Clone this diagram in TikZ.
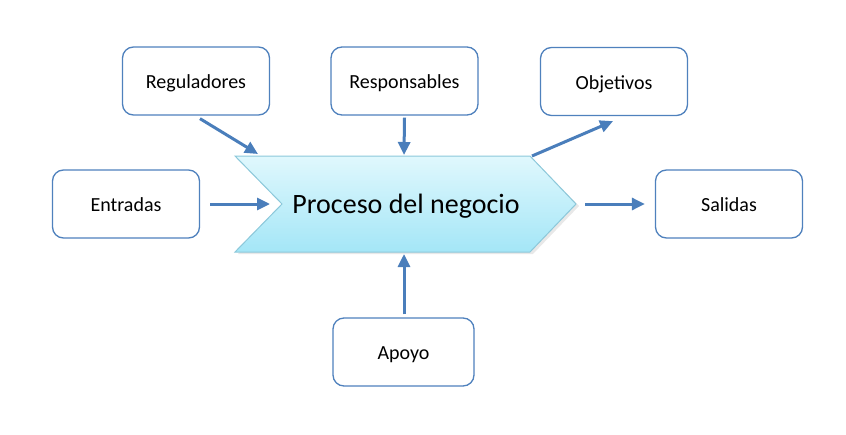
\documentclass[tikz,border=0pt]{standalone}
\usepackage{fontspec}
\setmainfont{Carlito}
\usetikzlibrary{arrows.meta,calc}
\definecolor{boxline}{RGB}{79,129,189}
\definecolor{arr}{RGB}{74,126,187}
\definecolor{chtop}{RGB}{224,248,253}
\definecolor{chbot}{RGB}{164,230,247}
\definecolor{chline}{RGB}{140,200,218}
\tikzset{
  stepbox/.style={draw=boxline, line width=1.3pt, rounded corners=11pt, fill=white,
    minimum width=147pt, minimum height=68pt, inner sep=0pt,
    text height=17pt, text depth=2pt, font=\fontsize{20}{24}\selectfont},
  flow/.style={draw=arr, line width=3pt, -{Triangle[length=13pt,width=12pt]}}
}
\begin{document}
\begin{tikzpicture}[x=1pt,y=-1pt]
\useasboundingbox (0,0) rectangle (846,434);
% chevron shadow
\fill[black!9] (238,159) -- (533,159) -- (579,206) -- (533,254) -- (238,254) -- (285,206) -- cycle;
% chevron
\shade[top color=chtop, bottom color=chbot, draw=chline, line width=1pt]
  (235,156) -- (530,156) -- (576,204) -- (530,252) -- (235,252) -- (282,204) -- cycle;
\node[font=\fontsize{28}{32}\selectfont] (proc) at (406,206) {Proceso del negocio};
\coordinate (pTopL) at (258,154);
\coordinate (pTopM) at (404,155);
\coordinate (pTopR) at (532,156);
\coordinate (pLeft) at (270,204);
\coordinate (pRight) at (585,204);
\coordinate (pBot) at (404,254);
% boxes
\node[stepbox] (reg) at (196,81) {Reguladores};
\node[stepbox] (res) at (404.5,81) {Responsables};
\node[stepbox] (obj) at (614,81.5) {Objetivos};
\node[stepbox] (ent) at (126,204) {Entradas};
\node[stepbox] (sal) at (729,204) {Salidas};
\node[stepbox, minimum width=141pt] (apo) at (403.5,352) {Apoyo};
% connectors
\draw[flow] ($(reg.south)+(4,3)$) -- (pTopL);
\draw[flow] ($(res.south)+(0,2)$) -- (pTopM);
\draw[flow] (pTopR) -- ($(obj.south)+(-1,5)$);
\draw[flow] ($(ent.east)+(10,0)$) -- (pLeft);
\draw[flow] (pRight) -- ($(sal.west)+(-10,0)$);
\draw[flow] ($(apo.north)+(0.5,-3)$) -- (pBot);
\end{tikzpicture}
\end{document}
